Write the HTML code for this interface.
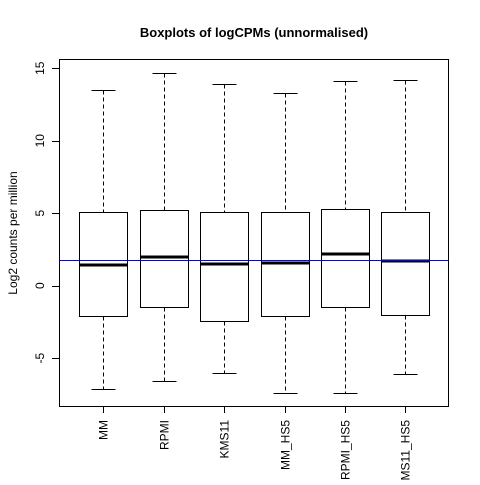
<!DOCTYPE html>
<html><head><meta charset="utf-8"><style>body{margin:0;background:#fff}svg text{font-family:"Liberation Sans",sans-serif}</style></head>
<body>
<svg id="chart" width="480" height="480" xmlns="http://www.w3.org/2000/svg">
<rect width="480" height="480" fill="#fff"/>
<text x="254" y="37" text-anchor="middle" font-size="13" font-weight="bold">Boxplots of logCPMs (unnormalised)</text>
<text transform="translate(17,233) rotate(-90)" text-anchor="middle" font-size="12">Log2 counts per million</text>
<rect x="59.5" y="59.5" width="389" height="347" fill="none" stroke="#000"/>
<g id="g"></g>
</svg>
<script>
const categories=["MM","RPMI","KMS11","MM_HS5","RPMI_HS5","KMS11_HS5"];
const lowWhisker=[-7.15,-6.6,-6.0,-7.4,-7.4,-6.1];
const q1=[-2.1,-1.5,-2.4,-2.1,-1.5,-2.0];
const medians=[1.4,2.0,1.5,1.6,2.2,1.7];
const q3=[5.1,5.2,5.1,5.1,5.3,5.1];
const highWhisker=[13.5,14.7,13.9,13.3,14.1,14.2];
const yTicks=[-5,0,5,10,15];
const refLine=1.8;
const NS="http://www.w3.org/2000/svg",g=document.getElementById('g');
const y=v=>285.7-14.5*v, x=i=>103.3+60.4*i;
const ys=v=>Math.round(y(v))+0.5;
function mk(t,a){const e=document.createElementNS(NS,t);for(const k in a)e.setAttribute(k,a[k]);g.appendChild(e);return e;}
yTicks.forEach(t=>{
 let l=mk('line',{x1:52,x2:59.5,y1:ys(t),y2:ys(t),stroke:'#000'});
 
 
 let tx=mk('text',{transform:`translate(44,${y(t)}) rotate(-90)`,'text-anchor':'middle','font-size':12});
 tx.textContent=t;
 
 
});
categories.forEach((c,i)=>{
 const cx=Math.round(x(i))+0.5,w=24;
 let wl=mk('line',{x1:cx,x2:cx,y1:ys(highWhisker[i]),y2:ys(q3[i]),stroke:'#000','stroke-dasharray':'4,3'});
 
 
 let wl2=mk('line',{x1:cx,x2:cx,y1:ys(q1[i]),y2:ys(lowWhisker[i]),stroke:'#000','stroke-dasharray':'4,3'});
 
 
 [highWhisker[i],lowWhisker[i]].forEach(v=>{
  let cap=mk('line',{x1:cx-12,x2:cx+12,y1:ys(v),y2:ys(v),stroke:'#000'});
  
  
 });
 let b=mk('rect',{x:cx-w,y:ys(q3[i]),width:2*w,height:ys(q1[i])-ys(q3[i]),fill:'#fff',stroke:'#000'});
 
 
 let m=mk('line',{x1:cx-w,x2:cx+w,y1:Math.round(y(medians[i])),y2:Math.round(y(medians[i])),stroke:'#000','stroke-width':3});
 
 
 let tk=mk('line',{x1:cx,x2:cx,y1:406,y2:413,stroke:'#000'});
 
 
 let t=mk('text',{transform:`translate(${cx+4},420) rotate(-90)`,'text-anchor':'end','font-size':12});
 t.textContent=c;
 
 
});
let r=mk('line',{x1:59.5,x2:448.5,y1:ys(refLine),y2:ys(refLine),stroke:'#0000ff'});


</script>
</body></html>
